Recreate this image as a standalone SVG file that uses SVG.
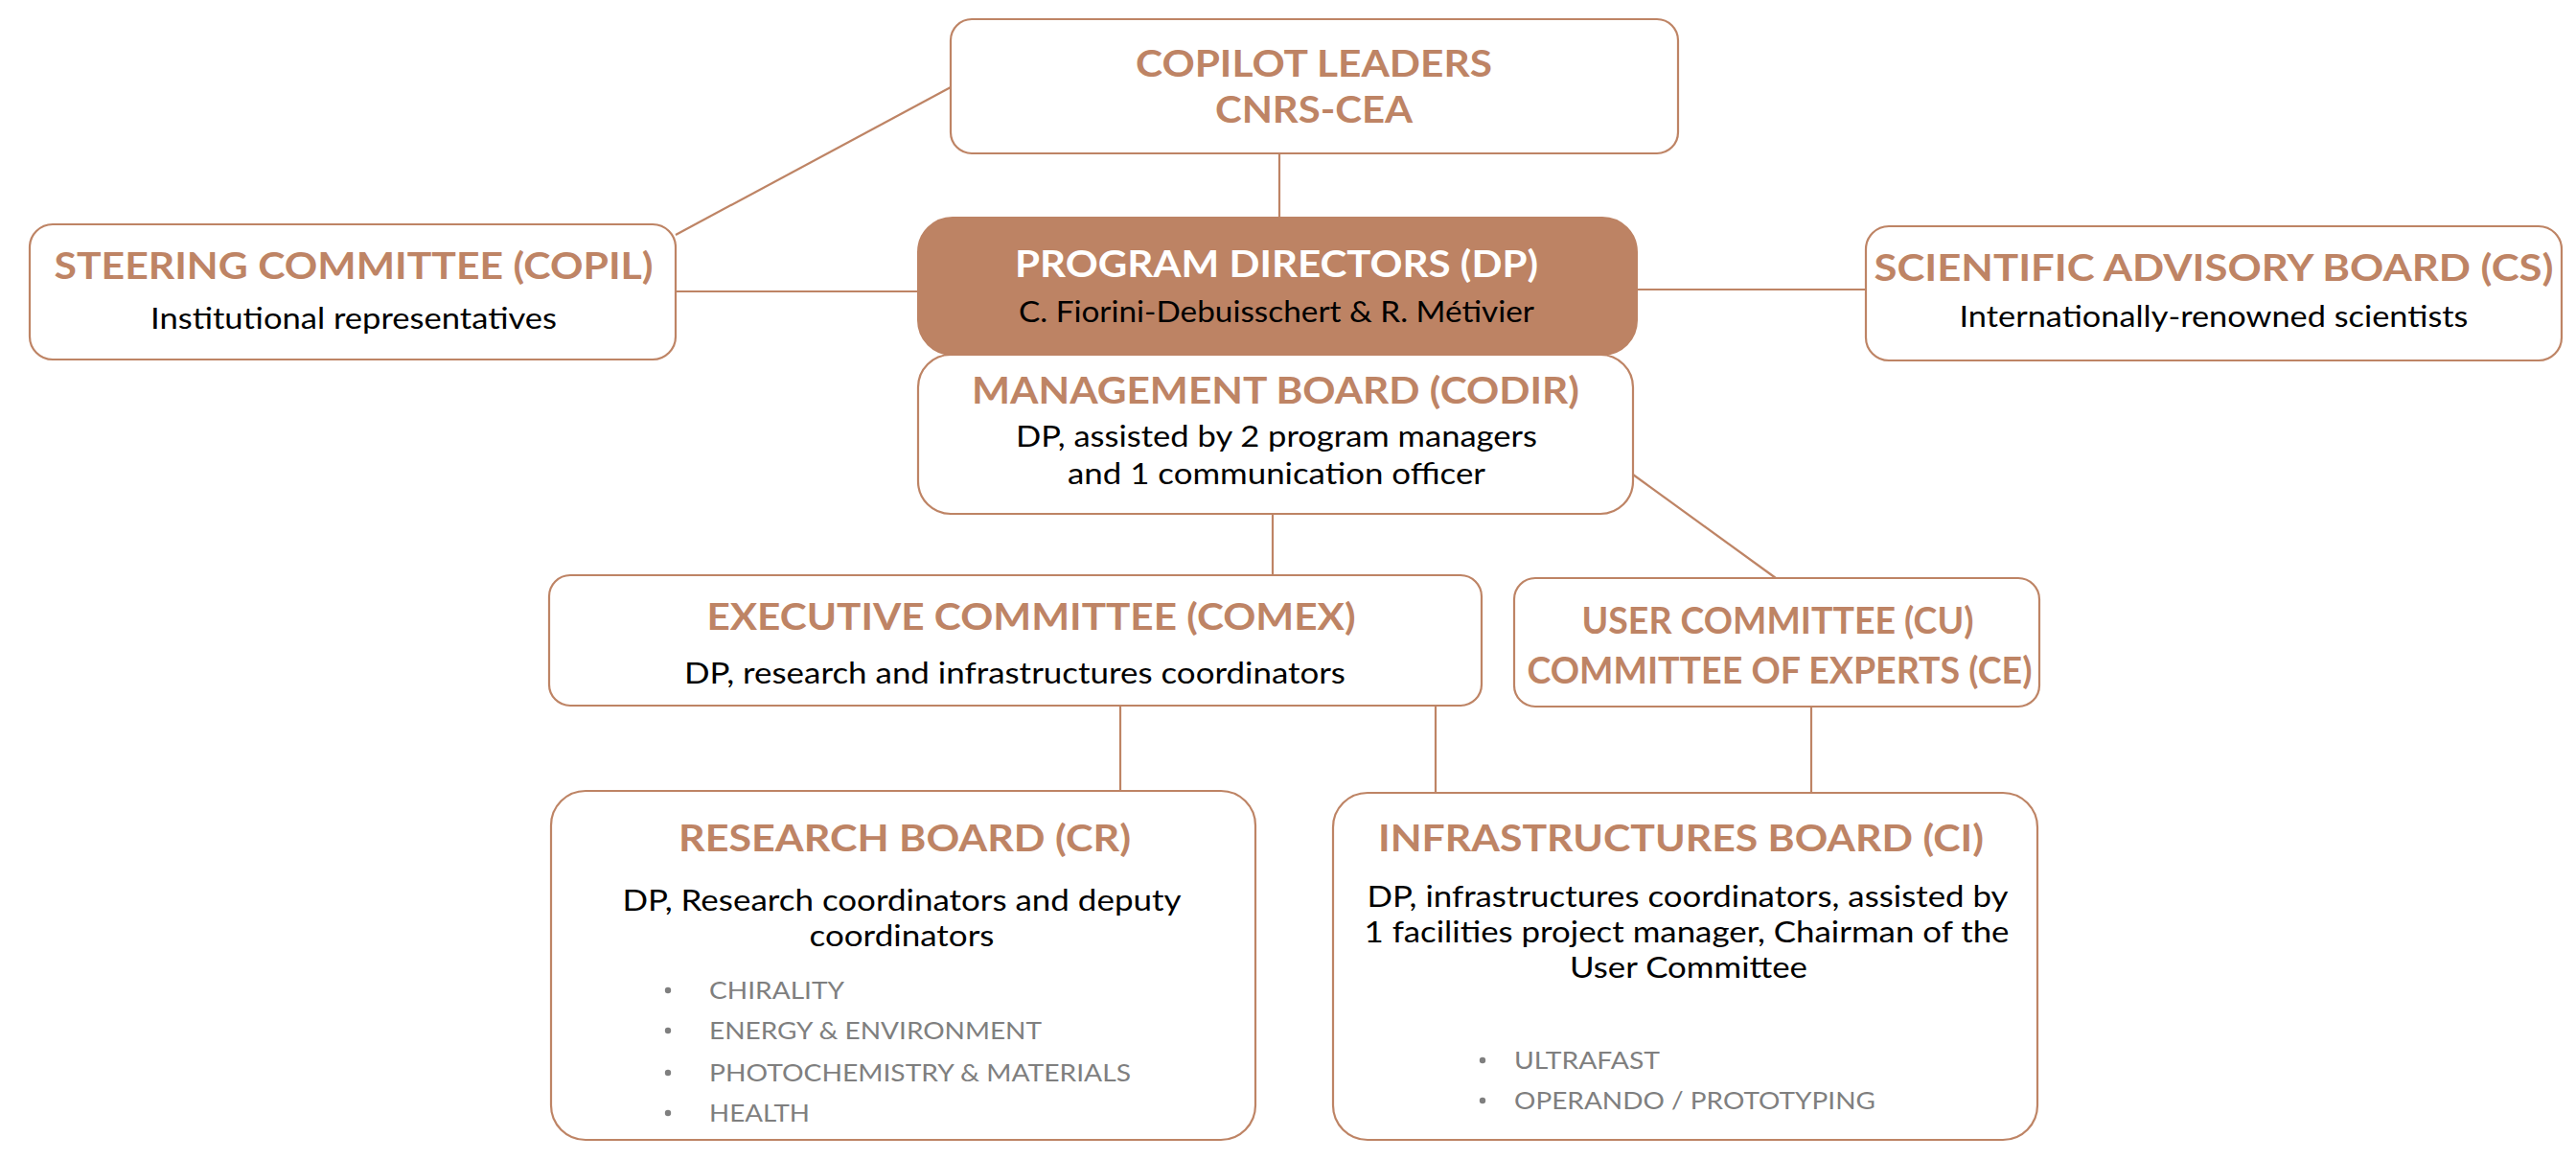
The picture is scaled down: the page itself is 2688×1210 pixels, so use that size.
<svg xmlns="http://www.w3.org/2000/svg" width="2688" height="1210" viewBox="0 0 2688 1210">
<style>
.box{fill:#ffffff;stroke:#BE8465;stroke-width:2.2}
.dp{fill:#BD8364;stroke:#BD8364;stroke-width:2}
.title{font-family:Lato,"Open Sans","Liberation Sans",sans-serif;font-weight:700;font-size:38px;fill:#BE8465;text-anchor:middle}
.wt{fill:#ffffff}
.body{font-family:Lato,"Open Sans","Liberation Sans",sans-serif;font-weight:400;font-size:30px;fill:#000000;text-anchor:middle}
.bul{font-family:Lato,"Open Sans","Liberation Sans",sans-serif;font-weight:400;font-size:25.5px;fill:#7f7f7f}
.dot{fill:#7f7f7f}
.conn line{stroke:#BE8465;stroke-width:2.2}
</style>
<rect width="2688" height="1210" fill="#ffffff"/>
<g id="connectors" class="conn">
<line x1="705" y1="245" x2="992" y2="91"/>
<line x1="705" y1="304" x2="958" y2="304"/>
<line x1="1335" y1="160" x2="1335" y2="227"/>
<line x1="1708" y1="302" x2="1947" y2="302"/>
<line x1="1328" y1="536" x2="1328" y2="600"/>
<line x1="1704" y1="495" x2="1853" y2="603"/>
<line x1="1169" y1="736" x2="1169" y2="825"/>
<line x1="1498" y1="736" x2="1498" y2="827"/>
<line x1="1890" y1="737" x2="1890" y2="827"/>
</g>
<g id="copilot">
<rect class="box" x="992" y="20" width="759" height="140" rx="22"/>
<text class="title" x="1371" y="80" textLength="372" lengthAdjust="spacingAndGlyphs">COPILOT LEADERS</text>
<text class="title" x="1371" y="128" textLength="206" lengthAdjust="spacingAndGlyphs">CNRS-CEA</text>
</g>
<g id="steering">
<rect class="box" x="31" y="234" width="674" height="141" rx="24"/>
<text class="title" x="369" y="291" textLength="625" lengthAdjust="spacingAndGlyphs">STEERING COMMITTEE (COPIL)</text>
<text class="body" x="369" y="343" textLength="424" lengthAdjust="spacingAndGlyphs">Institutional representatives</text>
</g>
<g id="management">
<rect class="box" x="958" y="370" width="746" height="166" rx="34"/>
<text class="title" x="1331" y="421" textLength="634" lengthAdjust="spacingAndGlyphs">MANAGEMENT BOARD (CODIR)</text>
<text class="body" x="1332" y="466" textLength="544" lengthAdjust="spacingAndGlyphs">DP, assisted by 2 program managers</text>
<text class="body" x="1332" y="505" textLength="436" lengthAdjust="spacingAndGlyphs">and 1 communication officer</text>
</g>
<g id="program-directors">
<rect class="dp" x="958" y="227" width="750" height="143" rx="36"/>
<text class="title wt" x="1332" y="289" textLength="546" lengthAdjust="spacingAndGlyphs">PROGRAM DIRECTORS (DP)</text>
<text class="body" x="1332" y="336" textLength="538" lengthAdjust="spacingAndGlyphs">C. Fiorini-Debuisschert &amp; R. Métivier</text>
</g>
<g id="scientific-board">
<rect class="box" x="1947" y="236" width="726" height="140" rx="24"/>
<text class="title" x="2310" y="293" textLength="709" lengthAdjust="spacingAndGlyphs">SCIENTIFIC ADVISORY BOARD (CS)</text>
<text class="body" x="2310" y="341" textLength="531" lengthAdjust="spacingAndGlyphs">Internationally-renowned scientists</text>
</g>
<g id="executive">
<rect class="box" x="573" y="600" width="973" height="136" rx="22"/>
<text class="title" x="1076" y="657" textLength="677" lengthAdjust="spacingAndGlyphs">EXECUTIVE COMMITTEE (COMEX)</text>
<text class="body" x="1059" y="713" textLength="690" lengthAdjust="spacingAndGlyphs">DP, research and infrastructures coordinators</text>
</g>
<g id="user-committee">
<rect class="box" x="1580" y="603" width="548" height="134" rx="22"/>
<text class="title" x="1855" y="661" textLength="409" lengthAdjust="spacingAndGlyphs">USER COMMITTEE (CU)</text>
<text class="title" x="1857" y="713" textLength="527" lengthAdjust="spacingAndGlyphs">COMMITTEE OF EXPERTS (CE)</text>
</g>
<g id="research-board">
<rect class="box" x="575" y="825" width="735" height="364" rx="36"/>
<text class="title" x="944" y="888" textLength="472" lengthAdjust="spacingAndGlyphs">RESEARCH BOARD (CR)</text>
<text class="body" x="941" y="950" textLength="583" lengthAdjust="spacingAndGlyphs">DP, Research coordinators and deputy</text>
<text class="body" x="941" y="987" textLength="193" lengthAdjust="spacingAndGlyphs">coordinators</text>
<circle class="dot" cx="697" cy="1033" r="3.2"/>
<text class="bul" x="740" y="1042" textLength="141" lengthAdjust="spacingAndGlyphs">CHIRALITY</text>
<circle class="dot" cx="697" cy="1075" r="3.2"/>
<text class="bul" x="740" y="1084" textLength="347" lengthAdjust="spacingAndGlyphs">ENERGY &amp; ENVIRONMENT</text>
<circle class="dot" cx="697" cy="1119" r="3.2"/>
<text class="bul" x="740" y="1128" textLength="440" lengthAdjust="spacingAndGlyphs">PHOTOCHEMISTRY &amp; MATERIALS</text>
<circle class="dot" cx="697" cy="1161" r="3.2"/>
<text class="bul" x="740" y="1170" textLength="105" lengthAdjust="spacingAndGlyphs">HEALTH</text>
</g>
<g id="infrastructures-board">
<rect class="box" x="1391" y="827" width="735" height="362" rx="36"/>
<text class="title" x="1754" y="888" textLength="632" lengthAdjust="spacingAndGlyphs">INFRASTRUCTURES BOARD (CI)</text>
<text class="body" x="1761" y="946" textLength="669" lengthAdjust="spacingAndGlyphs">DP, infrastructures coordinators, assisted by</text>
<text class="body" x="1760" y="983" textLength="673" lengthAdjust="spacingAndGlyphs">1 facilities project manager, Chairman of the</text>
<text class="body" x="1762" y="1020" textLength="248" lengthAdjust="spacingAndGlyphs">User Committee</text>
<circle class="dot" cx="1547" cy="1106" r="3.2"/>
<text class="bul" x="1580" y="1115" textLength="152" lengthAdjust="spacingAndGlyphs">ULTRAFAST</text>
<circle class="dot" cx="1547" cy="1148" r="3.2"/>
<text class="bul" x="1580" y="1157" textLength="377" lengthAdjust="spacingAndGlyphs">OPERANDO / PROTOTYPING</text>
</g>
</svg>
